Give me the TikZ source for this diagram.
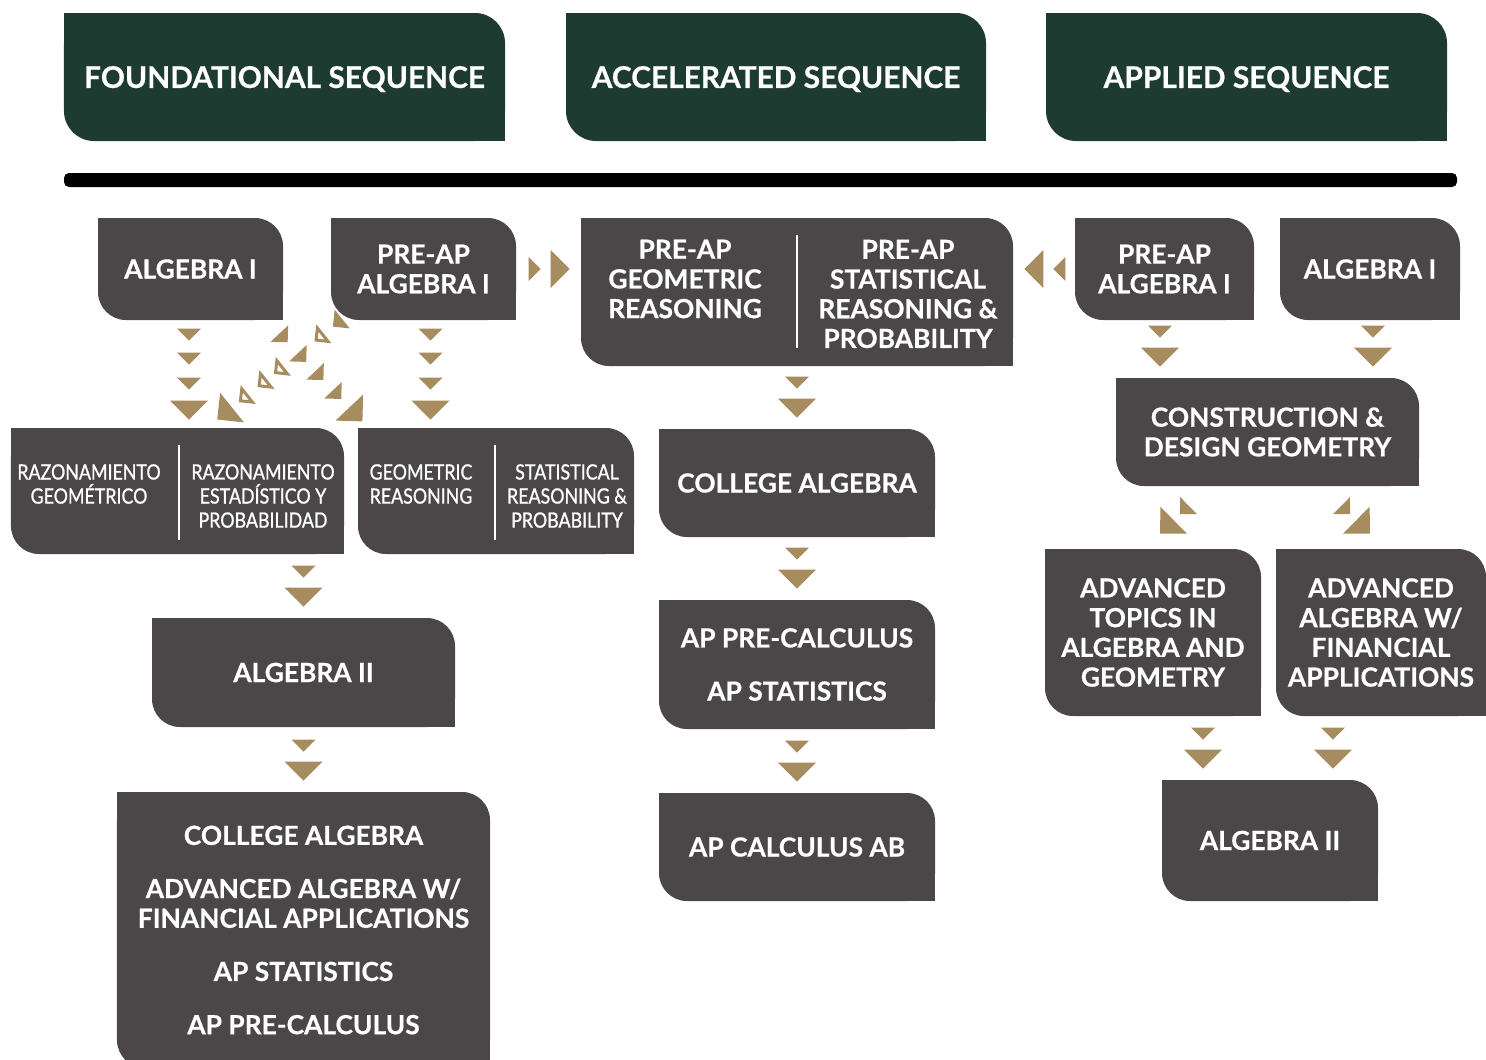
\documentclass[tikz,border=0pt]{standalone}
\usepackage{fontspec}
\setmainfont{Lato}
\newfontfamily\heavyfont{Lato Bold}[FakeBold=0.6]
\newfontfamily\condfont{Lato}[FakeStretch=0.845, FakeBold=0.9]
\usetikzlibrary{decorations.markings}

\definecolor{seqgreen}{RGB}{30,59,49}
\definecolor{boxgray}{RGB}{75,70,71}
\definecolor{gold}{RGB}{166,140,95}

\pgfdeclarelayer{back}
\pgfsetlayers{back,main}

\newcommand{\headfont}{\heavyfont\fontsize{17}{19}\selectfont}
\newcommand{\coursefont}{\heavyfont\fontsize{15}{16.9}\selectfont}
\newcommand{\smallfont}{\condfont\fontsize{12}{13.7}\selectfont}

\newcommand{\bigtri}{\fill[gold] (0,0) -- (-19,19) -- (-19,-19) -- cycle;}
\newcommand{\smalltri}{\fill[gold] (0,0) -- (-12,12) -- (-12,-12) -- cycle;}
\newcommand{\opentri}{\filldraw[fill=white, draw=gold, line width=0.6mm] (-2,0) -- (-10.5,8.5) -- (-10.5,-8.5) -- cycle;}

\tikzset{
  sharpnwse/.style={append after command={\pgfextra{
      \begin{pgfonlayer}{back}
      \fill[#1, sharp corners] (\tikzlastnode.north west) rectangle ++(40,-40);
      \fill[#1, sharp corners] (\tikzlastnode.south east) rectangle ++(-40,40);
      \end{pgfonlayer}}}},
  seq/.style={fill=seqgreen, text=white, font=\headfont, inner sep=0pt, text depth=0pt,
    rounded corners=6mm, sharpnwse=seqgreen, minimum height=25.6mm},
  course/.style={fill=boxgray, text=white, font=\coursefont, align=center,
    inner sep=0pt, rounded corners=5.6mm, sharpnwse=boxgray},
  coltext/.style={text=white, align=center, inner sep=0pt},
  divider/.style={draw=white, line width=0.4mm},
  twostep/.style={decorate, decoration={markings,
      mark=at position -8mm with {\smalltri},
      mark=at position -2.2mm with {\bigtri}}},
  fourstep/.style={decorate, decoration={markings,
      mark=at position -17.4mm with {\smalltri},
      mark=at position -12.6mm with {\smalltri},
      mark=at position -7.6mm with {\smalltri},
      mark=at position -1.6mm with {\bigtri}}},
  diagstep/.style={decorate, decoration={markings,
      mark=at position -5.6mm with {\smalltri},
      mark=at position -0.1pt with {\bigtri}}},
  crossstep/.style={decorate, decoration={markings,
      mark=at position -21.8mm with {\smalltri},
      mark=at position -16.4mm with {\smalltri},
      mark=at position -11.4mm with {\smalltri},
      mark=at position -6.2mm with {\smalltri},
      mark=at position -0.1pt with {\bigtri}}},
  openstep/.style={decorate, decoration={markings,
      mark=at position -29.7mm with {\smalltri},
      mark=at position -25mm with {\opentri},
      mark=at position -14.6mm with {\opentri},
      mark=at position -10.4mm with {\opentri},
      mark=at position -5.6mm with {\opentri},
      mark=at position -0.1pt with {\bigtri}}},
}

\begin{document}
\begin{tikzpicture}[x=0.2mm, y=0.2mm]
\useasboundingbox (0,0) rectangle (1486,-1059);

% sequence headers
\node (H1) at (284.5,-77) [seq, minimum width=88.2mm] {FOUNDATIONAL SEQUENCE};
\node (H2) at (776,-77) [seq, minimum width=84mm] {ACCELERATED SEQUENCE};
\node (H3) at (1246.5,-77) [seq, minimum width=80.2mm] {APPLIED SEQUENCE};
\fill[black, rounded corners=1mm] (64,-173) rectangle (1457,-187);

% first row
\node (A1) at (190.5,-269) [course, minimum width=37mm, minimum height=20.4mm] {ALGEBRA I};
\node (P1) at (423.5,-269) [course, minimum width=37mm, minimum height=20.4mm] {PRE-AP\\ALGEBRA I};
\node (PG) at (797,-292) [course, minimum width=86.4mm, minimum height=29.6mm] {};
\node (PGl) at (685,-279) [coltext, font=\coursefont] {PRE-AP\\GEOMETRIC\\REASONING};
\node (PGr) at (908,-294) [coltext, font=\coursefont] {PRE-AP\\STATISTICAL\\REASONING \&\\PROBABILITY};
\draw [divider] ([yshift=-3.4mm]PG.north) -- ([yshift=3.6mm]PG.south);
\node (P2) at (1164.5,-269) [course, minimum width=35.8mm, minimum height=20.4mm] {PRE-AP\\ALGEBRA I};
\node (A2) at (1370,-269) [course, minimum width=36mm, minimum height=20.4mm] {ALGEBRA I};

% second row
\node (RZ) at (177.5,-491) [course, minimum width=66.6mm, minimum height=25.2mm] {};
\node (RZl) at (89,-484) [coltext, font=\smallfont] {RAZONAMIENTO\\GEOMÉTRICO};
\node (RZr) at (263,-496) [coltext, font=\smallfont] {RAZONAMIENTO\\ESTADÍSTICO Y\\PROBABILIDAD};
\draw [divider] ([xshift=0.3mm, yshift=-3.4mm]RZ.north) -- ([xshift=0.3mm, yshift=2.8mm]RZ.south);
\node (GS) at (496,-491) [course, minimum width=55.2mm, minimum height=25.2mm] {};
\node (GSl) at (421,-484) [coltext, font=\smallfont] {GEOMETRIC\\REASONING};
\node (GSr) at (567,-496) [coltext, font=\smallfont] {STATISTICAL\\REASONING \&\\PROBABILITY};
\draw [divider] ([xshift=-0.2mm, yshift=-3.4mm]GS.north) -- ([xshift=-0.2mm, yshift=2.8mm]GS.south);
\node (CA) at (797,-483) [course, minimum width=55.2mm, minimum height=21.6mm] {COLLEGE ALGEBRA};
\node (CD) at (1267.5,-432) [course, minimum width=60.6mm, minimum height=21.6mm] {CONSTRUCTION \&\\DESIGN GEOMETRY};

% third row
\node (A2L) at (303.5,-672.5) [course, minimum width=60.6mm, minimum height=21.8mm] {ALGEBRA II};
\node (APC) at (797,-664.5) [course, minimum width=55.2mm, minimum height=25.8mm] {AP PRE-CALCULUS\\[4.7mm]AP STATISTICS};
\node (AT) at (1153,-632.5) [course, minimum width=43.2mm, minimum height=33.4mm] {ADVANCED\\TOPICS IN\\ALGEBRA AND\\GEOMETRY};
\node (AA) at (1381,-632.5) [course, minimum width=42mm, minimum height=33.4mm] {ADVANCED\\ALGEBRA W/\\FINANCIAL\\APPLICATIONS};

% fourth row
\node (CL) at (303.5,-930) [course, minimum width=74.6mm, minimum height=55.2mm] {COLLEGE ALGEBRA\\[4.7mm]ADVANCED ALGEBRA W/\\FINANCIAL APPLICATIONS\\[4.7mm]AP STATISTICS\\[4.7mm]AP PRE-CALCULUS};
\node (AB) at (797,-847) [course, minimum width=55.2mm, minimum height=21.6mm] {AP CALCULUS AB};
\node (A2R) at (1270,-840.5) [course, minimum width=43.2mm, minimum height=24.2mm] {ALGEBRA II};

% arrows
\path [fourstep] ([xshift=-0.3mm]A1.south) -- ([xshift=-0.3mm]A1.south |- RZ.north);
\path [fourstep] ([xshift=1.4mm]P1.south) -- ([xshift=1.4mm]P1.south |- GS.north);
\path [openstep] ([xshift=2mm]P1.south west) -- ([xshift=7.9mm, yshift=1.6mm]RZ.north);
\path [crossstep] ([xshift=-1.2mm, yshift=-2.2mm]A1.south east) -- ([xshift=1mm, yshift=1.2mm]GS.north west);
\path [twostep] (P1.east) -- (P1.east -| PG.west);
\path [twostep] (P2.west) -- (P2.west -| PG.east);
\path [twostep] (PG.south) -- (CA.north);
\path [twostep] (CA.south) -- (APC.north);
\path [twostep] (APC.south) -- (AB.north);
\path [twostep] (A2L.north |- RZ.south) -- (A2L.north);
\path [twostep] (A2L.south) -- (CL.north);
\path [twostep] ([xshift=-0.9mm]P2.south) -- ([xshift=-0.9mm]P2.south |- CD.north);
\path [twostep] ([xshift=0.6mm]A2.south) -- ([xshift=0.6mm]A2.south |- CD.north);
\path [diagstep] ([xshift=-11.9mm]CD.south) -- ([xshift=1.4mm, yshift=3mm]AT.north);
\path [diagstep] ([xshift=10.9mm]CD.south) -- ([xshift=-2.2mm, yshift=3mm]AA.north);
\path [twostep] ([xshift=10mm]AT.south) -- ([xshift=10mm]AT.south |- A2R.north);
\path [twostep] ([xshift=-9.6mm]AA.south) -- ([xshift=-9.6mm]AA.south |- A2R.north);
\end{tikzpicture}
\end{document}
